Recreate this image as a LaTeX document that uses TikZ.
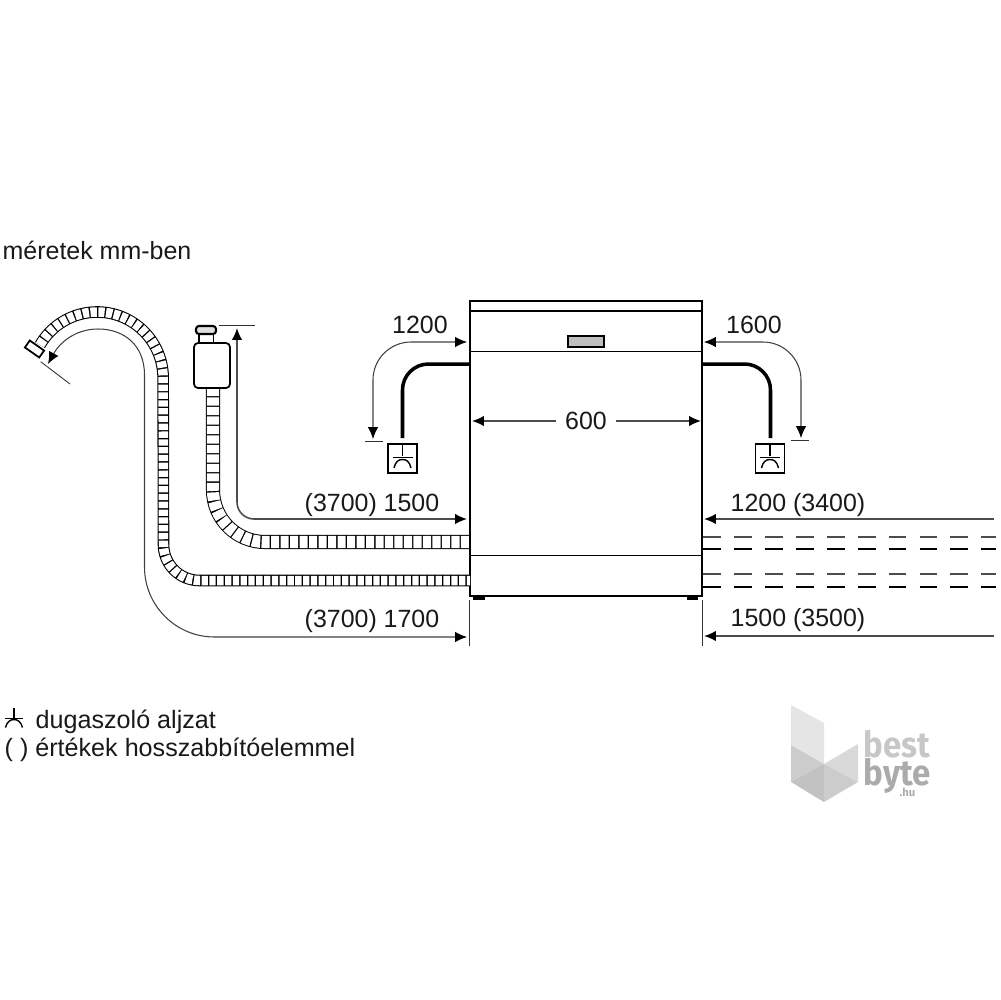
\documentclass[tikz,border=0pt]{standalone}
\usepackage{fontspec}
\setmainfont{Liberation Sans}
\newfontfamily\logofont{Fira Sans}
\usetikzlibrary{arrows.meta}
\tikzset{
  label/.style={font=\fontsize{7.1}{8}\selectfont,inner sep=0pt,text=black!90},
  dimline/.style={line width=.3pt,draw=black!75,rounded corners=3.8mm},
  dimtip/.style={line width=.45pt,draw=black!70,rounded corners=3.8mm},
  tick/.style={line width=.25pt,draw=black!80},
  cord/.style={line width=1pt,rounded corners=2.6mm},
  wall/.style={line width=.45pt},
  hosethin/.style={line width=3.3pt,postaction={draw=white,line width=2.7pt,dash pattern=on 1.8pt off .42pt}},
  hosewide/.style={line width=4pt,rounded corners=5.2mm,postaction={draw=white,line width=3.45pt,dash pattern=on 2.3pt off .4pt}},
  pipeL/.style={line width=.55pt,dash pattern=on 5.1pt off 3.7pt,draw=black!70},
  pipeS/.style={line width=.3pt,dash pattern=on 5.1pt off 3.7pt},
  logoA/.style={fill=black!10},
  logoB/.style={fill=black!15},
  logoC/.style={fill=black!20},
  logoD/.style={fill=black!24},
  tipp/.tip={Latex[length=3.4pt,width=3pt,black]}
}
\begin{document}
\begin{tikzpicture}[x=.1mm,y=-.1mm]
  \useasboundingbox (0,0) rectangle (1000,1000);

  % machine
  \coordinate (topleft) at (470,301);
  \coordinate (botright) at (702,596);
  \draw[wall] (topleft) rectangle (botright);
  \draw[wall] (470,311) -- (702,311);
  \draw[line width=.35pt] (470,351.5) -- (702,351.5);
  \draw[wall] (470,555.5) -- (702,555.5);
  \node[draw,line width=.4pt,fill=black!25,minimum width=3.6mm,minimum height=1.1mm,inner sep=0pt] (panel) at (586,341.5) {};
  \fill (473,596) rectangle (485,600);
  \fill (687,596) rectangle (698,600);

  % extension lines
  \coordinate (extL) at (469,646);
  \coordinate (extR) at (702,646);
  \draw[tick] (469,600) -- (extL);
  \draw[tick] (702,600) -- (extR);

  % hoses
  \coordinate (hosetip) at (40,345);
  \draw[hosethin] (hosetip) arc[start angle=150,end angle=0,radius=6.6mm] -- (163.5,544.5) arc[start angle=180,end angle=270,radius=3.6mm] -- (470,580.5);
  \coordinate (valve) at (213,388);
  \draw[hosewide] (valve) |- (470,542);
  \node[draw,line width=.5pt,rotate=-35,minimum width=1.75mm,minimum height=.85mm,inner sep=0pt,fill=white] (hosecap) at (34.5,349) {};

  % valve body
  \draw[line width=.45pt] (199,334) -- (199,343) (213.5,334) -- (213.5,343);
  \node[draw,fill=white,line width=.5pt,rounded corners=.4mm,minimum width=3.6mm,minimum height=4.5mm,inner sep=0pt] (valvebox) at (212,365.5) {};
  \node[draw,fill=black!12,line width=.6pt,rounded corners=.3mm,minimum width=2mm,minimum height=.8mm,inner sep=0pt] (valvenut) at (206,330) {};

  % cords and sockets
  \node[draw,line width=.5pt,minimum size=2.9mm,inner sep=0pt] (socketL) at (402.5,458.5) {};
  \node[draw,line width=.5pt,minimum size=2.9mm,inner sep=0pt] (socketR) at (770,458.5) {};
  \coordinate (cordL) at (470,364);
  \coordinate (cordR) at (702,364);
  \draw[cord] (cordL) -| (402.5,438);
  \draw[cord] (cordR) -| (770.5,438);
  \foreach \s in {socketL,socketR}{
    \draw[line width=.4pt] (\s.north) -- ++(0,13);
    \draw[line width=.4pt] ([shift={(-10,-1)}]\s.center) -- ([shift={(10,-1)}]\s.center);
    \draw[line width=.4pt] ([shift={(-8.5,9.5)}]\s.center) .. controls ([shift={(-7,3)}]\s.center) and ([shift={(-4,1)}]\s.center) .. ([shift={(0,1)}]\s.center) .. controls ([shift={(4,1)}]\s.center) and ([shift={(7,3)}]\s.center) .. ([shift={(8.5,9.5)}]\s.center);
  }

  % dimensions
  \coordinate (tipa) at (467,342);
  \coordinate (tipb) at (373,439);
  \coordinate (tipc) at (704,342);
  \coordinate (tipd) at (801,438);
  \draw[dimline,{tipp}-{tipp}] (tipa) -| (tipb);
  \draw[dimline,{tipp}-{tipp}] (tipc) -| (tipd);
  \draw[tick] (365,441) -- (383,441);
  \draw[tick] (791,440) -- (809,440);

  \node[label,anchor=base] (w) at (586,429) {600};
  \draw[dimtip,-{tipp}] (w.west |- 0,421) ++(-8,0) -- (472,421);
  \draw[dimtip,-{tipp}] (w.east |- 0,421) ++(8,0) -- (701,421);

  \coordinate (tipe) at (467,519);
  \coordinate (tipf) at (237,328);
  \draw[dimtip,rounded corners=1.7mm,{tipp}-{tipp}] (tipf) |- (tipe);
  \draw[tick] (219,325) -- (255,325);

  \coordinate (tipg) at (467,637);
  \coordinate (tiph) at (48,364);
  \draw[dimline,-{tipp},rounded corners=7mm] (144.5,375) |- (tipg);
  \draw[dimline,sharp corners,{tipp}-] (tiph) .. controls (60,342) and (76,329) .. (98,329) .. controls (124,329) and (144.5,345) .. (144.5,375);
  \draw[tick] (40.7,361.7) -- (70,384);

  \foreach \ya/\yb in {519/994,636/994}
    \draw[dimtip,{tipp}-] (704,\ya) -- (\yb,\ya);

  \foreach \y in {537,574}
    \draw[pipeL] (703,\y) -- (996,\y);
  \foreach \y in {549,587}
    \draw[pipeS] (703,\y) -- (996,\y);

  % labels
  \node[label,anchor=base west] (title) at (2,259) {méretek mm-ben};
  \node[label,anchor=base] (lena) at (420,333) {1200};
  \node[label,anchor=base] (lenb) at (754,333) {1600};
  \node[label,anchor=base] (lenc) at (372,511) {(3700) 1500};
  \node[label,anchor=base] (lend) at (372,627) {(3700) 1700};
  \node[label,anchor=base] (lene) at (798,511) {1200 (3400)};
  \node[label,anchor=base] (lenf) at (798,626) {1500 (3500)};

  % legend
  \coordinate (sym) at (14,718.5);
  \draw[line width=.4pt] (sym) -- ++(0,-11);
  \draw[line width=.4pt] ([xshift=-.95mm]sym) -- ([xshift=.95mm]sym);
  \draw[line width=.4pt] (5.5,727.5) .. controls (7,722) and (10,719.5) .. (14,719.5) .. controls (18,719.5) and (21,722) .. (22.5,727.5);
  \node[label,font=\fontsize{7.15}{8}\selectfont,anchor=base west] (lega) at (35,728) {dugaszoló aljzat};
  \node[label,font=\fontsize{7.15}{8}\selectfont,anchor=base west] (legb) at (4,756) {( ) értékek hosszabbítóelemmel};

  % logo
  \fill[logoA] (791,705) -- (824,723) -- (824,764) -- (791,745) -- cycle;
  \fill[logoC] (791,745) -- (824,764) -- (791,782) -- cycle;
  \fill[logoB] (824,764) -- (858,744) -- (858,782) -- cycle;
  \fill[logoD] (791,782) -- (824,764) -- (824,802) -- cycle;
  \fill[logoC] (824,764) -- (858,782) -- (824,802) -- cycle;
  \node[font=\logofont\bfseries\fontsize{10.2}{10}\selectfont,text=black!22,inner sep=0pt,anchor=base west,xscale=.92] (best) at (863,757) {best};
  \node[font=\logofont\bfseries\fontsize{10.2}{10}\selectfont,text=black!33,inner sep=0pt,anchor=base west,xscale=.92] (byte) at (863,785.5) {byte};
  \node[font=\logofont\bfseries\fontsize{3.2}{4}\selectfont,text=black!33,inner sep=0pt,anchor=base west] (hu) at (899,796) {.hu};
\end{tikzpicture}
\end{document}
